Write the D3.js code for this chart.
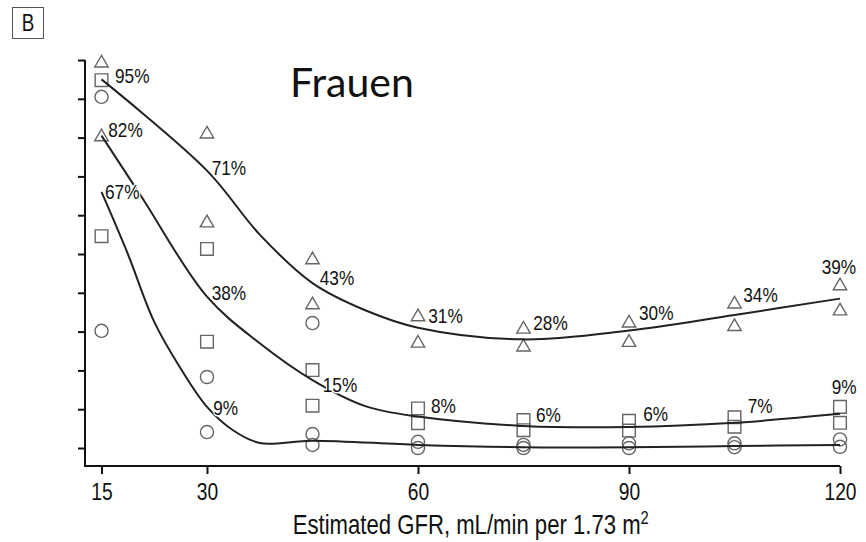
<!DOCTYPE html>
<html>
<head>
<meta charset="utf-8">
<script src="https://cdn.jsdelivr.net/npm/d3@7"></script>
<style>
    body { margin: 0; background: #fff; }
    .narrow { font-family: "Liberation Sans", Arial, sans-serif; fill: #111; }
    .axis path, .axis line { stroke: #111; stroke-width: 2; }
    .marker { fill: none; stroke: #666; stroke-width: 1.4; }
    .fit { fill: none; stroke: #222; stroke-width: 2; }
    .pct { stroke: #fff; stroke-width: 3; paint-order: stroke; }
</style>
</head>
<body>
<div id="chart"></div>
<script>
// GFR positions of the point groups
const gfr = [15, 30, 45, 60, 75, 90, 105, 120];

// markers, % (two of each symbol per GFR group)
const triHigh = [99.2, 80.9, 48.5, 33.8, 30.6, 32.2, 37.1, 41.8];
const triLow = [80.2, 58.0, 36.9, 27.0, 26.0, 27.2, 31.3, 35.3];
const sqHigh = [94.8, 51.3, 20.1, 10.2, 7.2, 7.0, 7.9, 10.6];
const sqLow = [54.6, 27.4, 10.9, 6.4, 4.6, 4.5, 5.5, 6.5];
const circHigh = [90.5, 18.3, 3.6, 1.6, 0.8, 1.2, 1.2, 2.2];
const circLow = [30.2, 4.1, 0.8, 0, 0, 0, 0.2, 0.3];
const circExtraGfr = [45];
const circExtra = [32.2];

// fitted curves
const fitGfrA = [15, 30, 37.5, 45, 52.5, 60, 75, 90, 105, 120];
const fitPctA = [95, 71.5, 55, 42.5, 35.5, 31, 28, 30.3, 34.3, 38.5];
const fitGfrB = [15, 20.6, 30, 37.5, 45, 52.5, 60, 75, 90, 105, 120];
const fitPctB = [80.5, 65, 39, 27, 17.5, 10.8, 8.1, 5.7, 5.4, 6.5, 8.8];
const fitGfrC = [15, 18.75, 22.5, 26.25, 30, 33.75, 37.5, 45, 60, 75, 90, 105, 120];
const fitPctC = [66, 50, 32.5, 20.5, 10.6, 4.5, 1.3, 1.9, 0.8, 0.2, 0.2, 0.5, 0.8];

// curve labels
const labelsA = [95, 71, 43, 31, 28, 30, 34, 39];
const labelsB = [82, 38, 15, 8, 6, 6, 7, 9];
const labelsC = [67, 9];

const xTicks = [15, 30, 60, 90, 120];
const yTicks = [0, 10, 20, 30, 40, 50, 60, 70, 80, 90, 100];

// pixel nudges of the labels from their curve point
const nudgeA = [[13.5, 4], [4.7, 2.5], [7.3, 3.8], [10.3, -5], [9.8, -9.4], [10, -11.6], [8.8, -14.4], [-18.3, -22.4]];
const nudgeB = [[6.8, 6.9], [4.7, -0.6], [10.3, 1.9], [13, -4.3], [12.5, -3], [14.3, -4], [13.2, -7.5], [-8.3, -19]];
const nudgeC = [[3.5, 11.3], [6.3, 2]];

// no condensed face installed: squeeze Liberation Sans like Arial Narrow
const squeeze = 'scale(0.82,1)';

function GfrChart() {
    let vis = this;
    vis.init();
}

GfrChart.prototype.init = function() {
    let vis = this;
    vis.width = 866;
    vis.height = 542;

    vis.svg = d3.select('#chart').append('svg')
        .attr('width', vis.width)
        .attr('height', vis.height);

    vis.x = d3.scaleLinear().domain([15, 120]).range([101.5, 840]);
    vis.y = d3.scaleLinear().domain([0, 100]).range([448, 60]);

    // panel letter
    vis.svg.append('rect')
        .attr('x', 12.5).attr('y', 7.5)
        .attr('width', 31).attr('height', 31)
        .attr('fill', 'none').attr('stroke', '#555').attr('stroke-width', 1);
    vis.svg.append('text')
        .attr('class', 'narrow')
        .attr('transform', 'translate(28,31) ' + squeeze)
        .attr('text-anchor', 'middle')
        .style('font-size', '23px')
        .text('B');

    vis.svg.append('text')
        .attr('x', 290).attr('y', 97)
        .style('font-family', 'Lato, "Open Sans", sans-serif')
        .style('font-size', '41px')
        .attr('fill', '#111')
        .text('Frauen');

    vis.drawAxes();
    vis.drawMarkers();
    vis.drawCurves();
}

GfrChart.prototype.drawAxes = function() {
    let vis = this;
    let axisY = 466;

    let xAxis = d3.axisBottom(vis.x)
        .tickValues(xTicks)
        .tickSize(8)
        .tickSizeOuter(0)
        .tickPadding(9);
    let gx = vis.svg.append('g')
        .attr('class', 'axis')
        .attr('transform', `translate(0,${axisY})`)
        .call(xAxis);
    // stretch the domain line to the y axis
    gx.select('.domain').attr('d', `M85,0H${vis.x(120)}`);
    gx.selectAll('text')
        .attr('class', 'narrow')
        .attr('transform', squeeze)
        .style('font-size', '23.5px')
        .attr('fill', '#111');

    let yAxis = d3.axisLeft(vis.y)
        .tickValues(yTicks)
        .tickSize(7)
        .tickSizeOuter(0)
        .tickFormat('');
    let gy = vis.svg.append('g')
        .attr('class', 'axis')
        .attr('transform', 'translate(85,0)')
        .call(yAxis);
    gy.select('.domain').attr('d', `M0,${vis.y(100)}V${axisY + 1}`);

    let cx = (vis.x(15) + vis.x(120)) / 2;
    let title = vis.svg.append('text')
        .attr('class', 'narrow')
        .attr('transform', `translate(${cx},534) ${squeeze}`)
        .attr('text-anchor', 'middle')
        .style('font-size', '27px');
    title.append('tspan').text('Estimated GFR, mL/min per 1.73 m');
    title.append('tspan').attr('dy', -10).style('font-size', '18px').text('2');
}

GfrChart.prototype.drawMarkers = function() {
    let vis = this;

    let groups = [
        { type: d3.symbolTriangle, size: 78, gfr: gfr, vals: triHigh },
        { type: d3.symbolTriangle, size: 78, gfr: gfr, vals: triLow },
        { type: d3.symbolSquare, size: 160, gfr: gfr, vals: sqHigh },
        { type: d3.symbolSquare, size: 160, gfr: gfr, vals: sqLow },
        { type: d3.symbolCircle, size: 135, gfr: gfr, vals: circHigh },
        { type: d3.symbolCircle, size: 135, gfr: gfr, vals: circLow },
        { type: d3.symbolCircle, size: 135, gfr: circExtraGfr, vals: circExtra }
    ];

    groups.forEach(g => {
        let sym = d3.symbol().type(g.type).size(g.size);
        vis.svg.append('g').selectAll('path')
            .data(g.vals)
            .enter()
            .append('path')
            .attr('class', 'marker')
            .attr('d', sym)
            .attr('transform', (d, i) => `translate(${vis.x(g.gfr[i])},${vis.y(d)})`);
    });
}

GfrChart.prototype.drawCurves = function() {
    let vis = this;

    let line = d3.line()
        .x(d => vis.x(d[0]))
        .y(d => vis.y(d[1]))
        .curve(d3.curveCatmullRom.alpha(0.5));

    let fits = [
        [fitGfrA, fitPctA, labelsA, nudgeA],
        [fitGfrB, fitPctB, labelsB, nudgeB],
        [fitGfrC, fitPctC, labelsC, nudgeC]
    ];

    fits.forEach(f => {
        let pts = f[0].map((g, i) => [g, f[1][i]]);
        vis.svg.append('path')
            .attr('class', 'fit')
            .attr('d', line(pts));
    });

    // labels last so their white halo breaks the lines beneath
    fits.forEach(f => {
        vis.svg.append('g').selectAll('text')
            .data(f[2])
            .enter()
            .append('text')
            .attr('class', 'narrow pct')
            .style('font-size', '21px')
            .attr('transform', (d, i) => {
                let px = vis.x(gfr[i]) + f[3][i][0];
                let py = vis.y(d) + f[3][i][1];
                return `translate(${px},${py}) ${squeeze}`;
            })
            .text(d => d + '%');
    });
}

new GfrChart();
</script>
</body>
</html>
